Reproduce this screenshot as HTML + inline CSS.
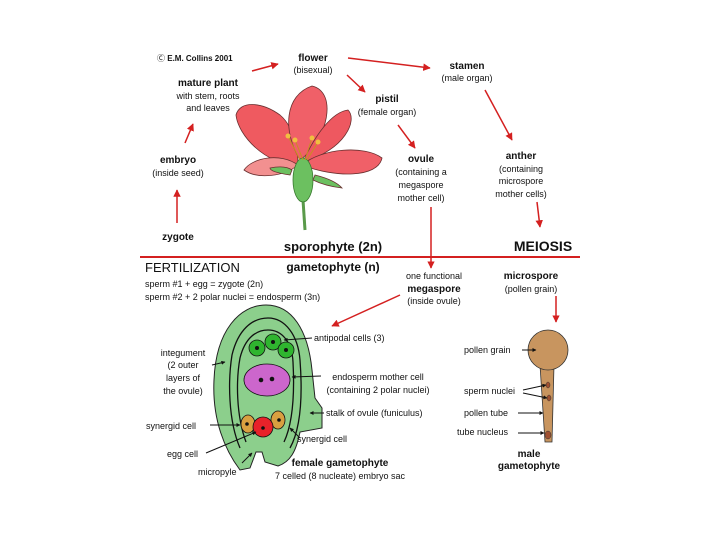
<!DOCTYPE html>
<html><head><meta charset="utf-8"><style>
html,body{margin:0;padding:0;background:#fff}
svg{display:block}
text{font-family:"Liberation Sans",sans-serif;fill:#111}
.b{font-weight:bold}
</style></head><body>
<svg width="720" height="540" viewBox="0 0 720 540" xmlns="http://www.w3.org/2000/svg">
<defs><marker id="a" viewBox="0 0 10 10" refX="9" refY="5" markerWidth="5" markerHeight="5" orient="auto"><path d="M0,0L10,5L0,10z" fill="#d42020"/></marker>
<marker id="k" viewBox="0 0 10 10" refX="9" refY="5" markerWidth="4" markerHeight="4" orient="auto"><path d="M0,0L10,5L0,10z" fill="#111"/></marker></defs>
<line x1="140" y1="257" x2="580" y2="257" stroke="#d42020" stroke-width="2"/>
<g stroke="#d42020" stroke-width="1.5" fill="none" marker-end="url(#a)">
<line x1="252" y1="71" x2="278" y2="64"/>
<line x1="348" y1="58" x2="430" y2="68"/>
<line x1="347" y1="75" x2="365" y2="92"/>
<line x1="398" y1="125" x2="415" y2="148"/>
<line x1="485" y1="90" x2="512" y2="140"/>
<line x1="537" y1="202" x2="540" y2="227"/>
<line x1="431" y1="207" x2="431" y2="268"/>
<line x1="185" y1="143" x2="193" y2="124"/>
<line x1="177" y1="223" x2="177" y2="190"/>
<line x1="400" y1="295" x2="332" y2="326"/>
<line x1="556" y1="296" x2="556" y2="322"/>
</g>
<!-- flower -->
<g stroke="#6a3030" stroke-width="0.8">
<path d="M298,165 C265,165 238,135 236,115 C240,100 262,102 280,115 C292,125 298,145 298,165z" fill="#ef5a60"/>
<path d="M300,160 C282,130 285,95 312,86 C338,92 328,140 300,160z" fill="#f06068"/>
<path d="M303,162 C315,135 332,112 348,110 C358,120 345,150 303,162z" fill="#ee5860"/>
<path d="M302,165 C322,148 365,145 382,158 C378,178 335,178 302,165z" fill="#f06068"/>
<path d="M298,165 C280,152 252,158 244,170 C258,180 285,176 298,165z" fill="#f29090"/>
<path d="M305,230 L303,200" stroke="#5a9a4a" stroke-width="3"/>
<ellipse cx="303" cy="180" rx="10" ry="22" fill="#6cc060" stroke="#3a7a30"/>
<path d="M290,175 Q270,172 270,168 Q285,165 292,170z M315,175 Q335,180 342,188 Q325,186 313,180z" fill="#6cc060"/>
</g>
<g stroke="#c89020" stroke-width="1"><line x1="303" y1="160" x2="295" y2="140"/><line x1="305" y1="160" x2="312" y2="138"/><line x1="300" y1="160" x2="288" y2="136"/><line x1="307" y1="160" x2="318" y2="142"/></g>
<g fill="#f0c040"><circle cx="295" cy="140" r="2.5"/><circle cx="312" cy="138" r="2.5"/><circle cx="288" cy="136" r="2.5"/><circle cx="318" cy="142" r="2.5"/></g>
<!-- ovule -->
<path d="M240,470 C225,450 212,420 214,380 C216,330 240,305 266,305 C292,305 308,330 312,370 L315,398 L322,408 L322,428 L300,432 C296,452 290,462 278,466 L265,462 L262,452 L256,452 L250,468z" fill="#8ccf8c" stroke="#222" stroke-width="1"/>
<path d="M240,448 C228,420 228,380 232,355 C238,330 252,318 268,318 C285,318 298,335 300,360 C303,400 300,430 290,448" fill="none" stroke="#111" stroke-width="1.3"/>
<path d="M246,442 C236,415 236,380 240,358 C245,338 256,330 268,330 C282,330 292,342 293,362 C295,400 292,425 284,442" fill="none" stroke="#111" stroke-width="1.3"/>
<g stroke="#111" stroke-width="0.8"><circle cx="257" cy="348" r="8" fill="#2fb52f"/><circle cx="273" cy="342" r="8" fill="#2fb52f"/><circle cx="286" cy="350" r="8" fill="#2fb52f"/>
<ellipse cx="267" cy="380" rx="23" ry="16" fill="#cc66cc"/>
<ellipse cx="248" cy="424" rx="7" ry="9" fill="#d9a040"/><ellipse cx="278" cy="420" rx="7" ry="9" fill="#d9a040"/><circle cx="263" cy="427" r="10" fill="#e8222a"/></g>
<g fill="#111"><circle cx="257" cy="348" r="2"/><circle cx="273" cy="342" r="2"/><circle cx="286" cy="350" r="2"/><circle cx="261" cy="380" r="2.3"/><circle cx="272" cy="379" r="2.3"/><circle cx="247" cy="424" r="1.8"/><circle cx="279" cy="420" r="1.8"/><circle cx="263" cy="428" r="1.8"/></g>
<g stroke="#111" stroke-width="1" marker-end="url(#k)">
<line x1="312" y1="338" x2="284" y2="340"/><line x1="212" y1="365" x2="225" y2="362"/><line x1="321" y1="376" x2="292" y2="377"/>
<line x1="324" y1="413" x2="310" y2="413"/><line x1="210" y1="425" x2="240" y2="425"/><line x1="300" y1="438" x2="290" y2="428"/>
<line x1="206" y1="453" x2="256" y2="432"/><line x1="242" y1="463" x2="252" y2="453"/>
</g>
<!-- pollen -->
<path d="M540,365 L545,442 L552,442 L554,365z" fill="#c8955f" stroke="#333" stroke-width="0.8"/>
<circle cx="548" cy="350" r="20" fill="#c8955f" stroke="#333" stroke-width="0.8"/>
<g fill="#a05030" stroke="#333" stroke-width="0.5"><ellipse cx="548" cy="385" rx="2" ry="3"/><ellipse cx="549" cy="398" rx="2" ry="3"/><ellipse cx="548" cy="435" rx="3" ry="4"/></g>
<g stroke="#111" stroke-width="1" marker-end="url(#k)">
<line x1="522" y1="350" x2="536" y2="350"/><line x1="523" y1="390" x2="546" y2="385"/><line x1="523" y1="393" x2="547" y2="398"/><line x1="518" y1="413" x2="543" y2="413"/><line x1="518" y1="433" x2="544" y2="433"/>
</g>
<g font-size="9" text-anchor="middle">
<text x="157" y="61" font-size="8" text-anchor="start">Ⓒ <tspan class="b">E.M. Collins 2001</tspan></text>
<text x="313" y="61" class="b" font-size="10">flower</text><text x="313" y="73">(bisexual)</text>
<text x="467" y="69" class="b" font-size="10">stamen</text><text x="467" y="81">(male organ)</text>
<text x="208" y="86" class="b" font-size="10">mature plant</text><text x="208" y="99">with stem, roots</text><text x="208" y="111">and leaves</text>
<text x="387" y="102" class="b" font-size="10">pistil</text><text x="387" y="115">(female organ)</text>
<text x="421" y="162" class="b" font-size="10">ovule</text><text x="421" y="175">(containing a</text><text x="421" y="188">megaspore</text><text x="421" y="201">mother cell)</text>
<text x="521" y="159" class="b" font-size="10">anther</text><text x="521" y="172">(containing</text><text x="521" y="184">microspore</text><text x="521" y="197">mother cells)</text>
<text x="178" y="163" class="b" font-size="10">embryo</text><text x="178" y="176">(inside seed)</text>
<text x="178" y="240" class="b" font-size="10">zygote</text>
<text x="333" y="251" class="b" font-size="13">sporophyte (2n)</text>
<text x="543" y="251" class="b" font-size="14">MEIOSIS</text>
<text x="333" y="271" class="b" font-size="12">gametophyte (n)</text>
<text x="145" y="272" font-size="13" text-anchor="start">FERTILIZATION</text>
<text x="145" y="287" text-anchor="start">sperm #1 + egg = zygote (2n)</text>
<text x="145" y="300" text-anchor="start">sperm #2 + 2 polar nuclei = endosperm (3n)</text>
<text x="434" y="279">one functional</text><text x="434" y="292" class="b" font-size="10">megaspore</text><text x="434" y="304">(inside ovule)</text>
<text x="531" y="279" class="b" font-size="10">microspore</text><text x="531" y="292">(pollen grain)</text>
<text x="183" y="356">integument</text><text x="183" y="368">(2 outer</text><text x="183" y="381">layers of</text><text x="183" y="394">the ovule)</text>
<text x="314" y="341" text-anchor="start">antipodal cells (3)</text>
<text x="378" y="380">endosperm mother cell</text><text x="378" y="393">(containing 2 polar nuclei)</text>
<text x="326" y="416" text-anchor="start">stalk of ovule (funiculus)</text>
<text x="146" y="429" text-anchor="start">synergid cell</text>
<text x="297" y="442" text-anchor="start">synergid cell</text>
<text x="167" y="457" text-anchor="start">egg cell</text>
<text x="198" y="475" text-anchor="start">micropyle</text>
<text x="340" y="466" class="b" font-size="10">female gametophyte</text>
<text x="340" y="479">7 celled (8 nucleate) embryo sac</text>
<text x="464" y="353" text-anchor="start">pollen grain</text>
<text x="464" y="394" text-anchor="start">sperm nuclei</text>
<text x="464" y="416" text-anchor="start">pollen tube</text>
<text x="457" y="435" text-anchor="start">tube nucleus</text>
<text x="529" y="457" class="b" font-size="10">male</text><text x="529" y="469" class="b" font-size="10">gametophyte</text>
</g>
</svg>
</body></html>
